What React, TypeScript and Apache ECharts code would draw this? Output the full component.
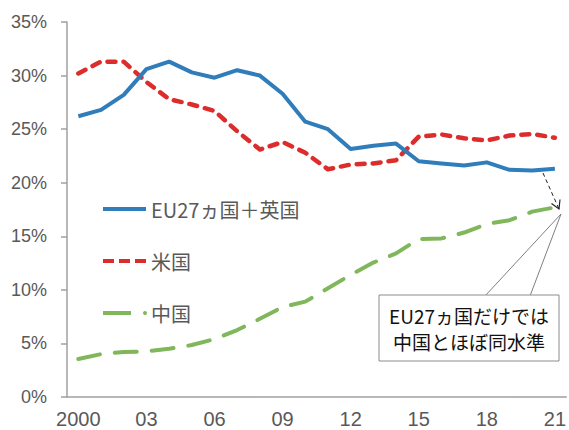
import React, { useEffect, useRef } from "react";
import * as echarts from "echarts";

const years = ["2000","01","02","03","04","05","06","07","08","09","10","11","12","13","14","15","16","17","18","19","20","21"];
const euUk = [26.2, 26.8, 28.2, 30.6, 31.3, 30.3, 29.8, 30.5, 30.0, 28.3, 25.7, 25.0, 23.15, 23.45, 23.65, 22.0, 21.8, 21.6, 21.9, 21.2, 21.15, 21.3];
const us = [30.2, 31.3, 31.3, 29.4, 27.8, 27.3, 26.7, 24.8, 23.1, 23.8, 22.8, 21.25, 21.7, 21.8, 22.1, 24.3, 24.5, 24.15, 23.95, 24.4, 24.55, 24.2];
const china = [3.55, 4.0, 4.2, 4.25, 4.5, 4.85, 5.4, 6.25, 7.3, 8.4, 8.9, 10.15, 11.4, 12.55, 13.4, 14.75, 14.8, 15.35, 16.15, 16.5, 17.3, 17.7];
const seriesNames = ["EU27ヵ国＋英国", "米国", "中国"];
const noteLines = ["EU27ヵ国だけでは", "中国とほぼ同水準"];

const BLUE = "#2f7dbb";
const RED = "#dd2c2c";
const GREEN = "#7fb75a";
const GRAY_TEXT = "#595959";
const AXIS = "#a0a0a0";
const JP = "'Noto Sans CJK JP', 'Noto Sans', sans-serif";
const NUM = "'Liberation Sans', Arial, sans-serif";

export default function App() {
  const ref = useRef<HTMLDivElement>(null);
  useEffect(() => {
    if (!ref.current) return;
    const chart = echarts.init(ref.current, null, { renderer: "svg" });
    const legendText = (y: number, t: string) => ({
      type: "text",
      x: 151,
      y: y,
      style: { text: t, fill: GRAY_TEXT, font: `20px ${JP}`, verticalAlign: "middle" },
    });
    chart.setOption({
      animation: false,
      backgroundColor: "#ffffff",
      grid: { left: 67, right: 2, top: 22, bottom: 33, containLabel: false },
      xAxis: {
        type: "category",
        data: years,
        boundaryGap: true,
        axisLine: { lineStyle: { color: AXIS, width: 1.5 } },
        axisTick: { interval: 0, length: 5, lineStyle: { color: AXIS, width: 1.5 } },
        axisLabel: { interval: 2, color: GRAY_TEXT, fontSize: 20, fontFamily: NUM, margin: 12 },
        splitLine: { show: false },
      },
      yAxis: {
        type: "value",
        min: 0,
        max: 35,
        interval: 5,
        axisLine: { show: true, lineStyle: { color: AXIS, width: 1.5 } },
        axisTick: { show: true, length: 6, lineStyle: { color: AXIS, width: 1.5 } },
        axisLabel: { formatter: "{value}%", color: GRAY_TEXT, fontSize: 18, fontFamily: NUM, margin: 20 },
        splitLine: { show: false },
      },
      series: [
        {
          name: seriesNames[0],
          type: "line",
          data: euUk,
          showSymbol: false,
          symbol: "none",
          lineStyle: { color: BLUE, width: 4, join: "round" },
          z: 3,
        },
        {
          name: seriesNames[1],
          type: "line",
          data: us,
          showSymbol: false,
          symbol: "none",
          lineStyle: { color: RED, width: 4.5, type: [8, 8], cap: "round", join: "round" },
          z: 2,
        },
        {
          name: seriesNames[2],
          type: "line",
          data: china,
          showSymbol: false,
          symbol: "none",
          lineStyle: { color: GREEN, width: 4, type: [22, 15], cap: "round", join: "round" },
          z: 2,
        },
      ],
      graphic: [
        // legend
        { type: "line", shape: { x1: 103, y1: 209, x2: 146, y2: 209 }, style: { stroke: BLUE, lineWidth: 4 } },
        legendText(209, seriesNames[0]),
        { type: "line", shape: { x1: 103, y1: 261, x2: 146, y2: 261 }, style: { stroke: RED, lineWidth: 4, lineDash: [11, 5] } },
        legendText(261, seriesNames[1]),
        { type: "line", shape: { x1: 103, y1: 313, x2: 131, y2: 313 }, style: { stroke: GREEN, lineWidth: 4 } },
        { type: "circle", shape: { cx: 145, cy: 313, r: 2 }, style: { fill: GREEN } },
        legendText(313, seriesNames[2]),
        // dashed arrow
        { type: "line", shape: { x1: 543, y1: 173, x2: 559, y2: 209 }, style: { stroke: "#222", lineWidth: 1, lineDash: [4, 3] }, z: 10 },
        { type: "polyline", shape: { points: [[551.5, 203.5], [559, 209], [560, 199.5]] }, style: { stroke: "#222", lineWidth: 1.2, fill: null }, z: 10 },
        // callout
        { type: "polyline", shape: { points: [[485, 296], [561, 214], [530, 296]] }, style: { stroke: "#7f7f7f", lineWidth: 1, fill: null }, z: 10 },
        { type: "rect", shape: { x: 379, y: 295, width: 180, height: 66 }, style: { fill: "#ffffff", stroke: "#8c8c8c", lineWidth: 1 }, z: 11 },
        {
          type: "text",
          x: 469,
          y: 315,
          style: { text: noteLines[0], fill: "#111", font: `19px ${JP}`, align: "center", verticalAlign: "middle" },
          z: 12,
        },
        {
          type: "text",
          x: 469,
          y: 341,
          style: { text: noteLines[1], fill: "#111", font: `19px ${JP}`, align: "center", verticalAlign: "middle" },
          z: 12,
        },
      ],
    });
    return () => chart.dispose();
  }, []);
  return (
    <div
      ref={ref}
      style={{ position: "fixed", left: 0, top: 0, width: 569, height: 430, background: "#fff" }}
    />
  );
}
